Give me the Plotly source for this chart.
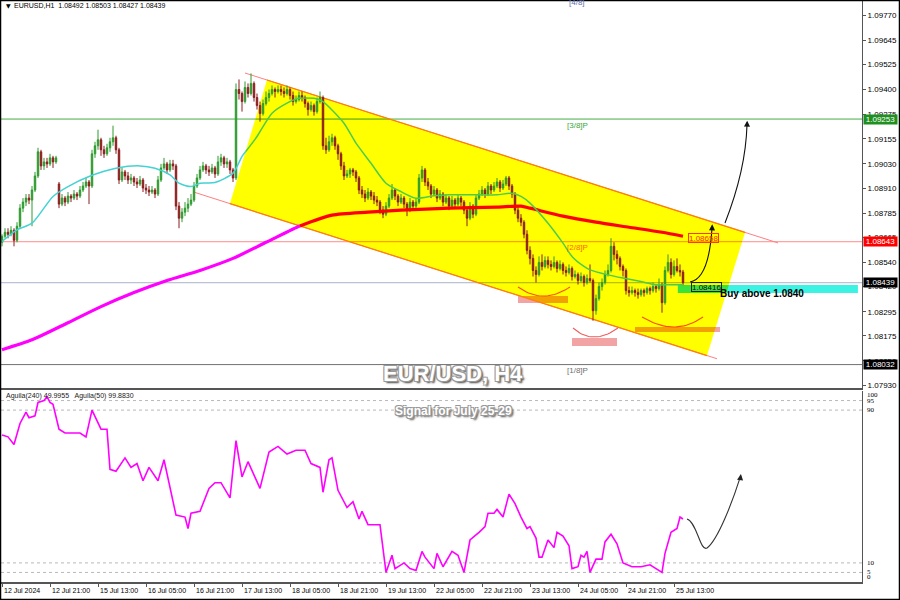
import plotly.graph_objects as go

# ======================= DATA =======================
BASE_PRICE = 1.08000  # the *_pips lists are pips above this price
symbol = "EURUSD,H1"

open_pips = [64,67,69,68,70,65,72,81,84,86, 85,90,97,109,102,104,103,106,104,93,
             83,86,84,87,86,88,87,90,92,94, 92,108,112,115,110,108,111,114,116,110,
             95,99,97,95,96,94,93,95,91,90, 89,90,88,95,101,103,100,103,102,82,
             76,79,81,83,85,92,96,100,102,100, 99,101,98,104,106,103,104,100,96,140,
             138,134,141,138,143,136,132,128,133,136, 138,140,139,140,139,138,140,137,134,135,
             137,136,133,130,132,129,134,136,112,110, 114,116,112,108,102,97,98,100,99,96,
             90,88,86,89,87,85,84,80,78,82, 86,90,87,84,86,83,80,84,82,84,
             96,100,94,92,88,90,86,88,84,86, 82,85,83,86,84,80,76,82,78,86,
             88,90,88,92,90,92,94,91,93,96, 92,88,80,76,74,68,60,56,50,48,
             54,52,55,53,52,54,51,53,50,49, 51,47,48,45,47,44,46,45,30,36,
             42,44,48,50,62,58,56,52,50,40, 39,40,39,38,40,39,41,40,42,41,
             43,34,50,54,48,52,50,49.2]
high_pips = [68,71,71,72,71,74,83,86,88,88, 92,99,111,110,106,106,108,107,107,94,
             88,87,89,88,90,89,92,94,96,95, 110,114,120,116,112,113,116,122,117,111,
             101,100,99,98,97,96,97,96,93,92, 92,91,97,103,106,104,105,105,103,84,
             81,84,86,88,94,98,102,104,103,102, 103,102,107,108,107,106,105,101,143,145,
             139,144,143,148,144,138,134,135,139,140, 142,141,142,142,141,142,141,139,137,139,
             139,137,134,134,133,136,139,137,116,117, 118,117,113,109,104,100,101,101,100,97,
             92,90,91,90,89,87,85,82,84,88, 93,91,88,88,87,84,86,85,86,98,
             102,101,96,93,92,91,90,89,88,87, 87,86,88,87,85,81,84,83,88,90,
             92,91,94,93,94,96,95,95,97,97, 93,89,82,78,75,70,62,58,52,57,
             58,57,57,55,57,55,55,54,52,53, 52,50,49,49,48,48,53,46,38,44,
             46,50,53,66,64,60,57,53,51,42, 42,41,41,41,41,42,42,44,43,46,
             44,52,58,56,55,56,53,50.3]
low_pips = [62,66,66,67,62,64,71,79,82,83, 72,89,96,100,100,101,102,101,103,81,
            82,82,83,84,85,85,86,89,91,83, 91,106,110,107,106,107,109,112,108,93,
            94,95,93,93,92,91,92,89,88,87, 88,86,87,94,100,98,99,100,80,71,
            74,77,79,82,84,91,95,99,98,97, 98,96,97,102,101,101,98,94,95,135,
            129,133,136,137,134,130,124,127,132,134, 137,136,138,137,136,137,135,132,133,134,
            134,131,127,129,127,128,133,110,108,109, 112,110,105,100,95,96,96,97,94,88,
            86,84,85,85,83,82,78,76,77,81, 85,85,82,83,81,77,79,80,81,83,
            94,92,90,86,87,84,85,82,83,80, 81,81,82,82,78,72,75,76,77,85,
            87,86,87,88,89,91,89,90,92,90, 86,78,74,72,66,58,53,47,44,47,
            50,51,51,50,51,49,50,48,47,48, 45,46,43,44,42,43,44,25,28,35,
            40,43,47,49,55,53,50,47,38,37, 38,37,36,37,37,38,38,39,39,40,
            29,33,49,46,47,49,47,42.7]
close_pips = [67,69,68,70,65,72,81,84,86,85, 90,97,109,102,104,103,106,104,106,83,
              86,84,87,86,88,87,90,92,94,92, 108,112,115,110,108,111,114,116,110,95,
              99,97,95,96,94,93,95,91,90,89, 90,88,95,101,103,100,103,102,82,76,
              79,81,83,85,92,96,100,102,100,99, 101,98,104,106,103,104,100,96,140,138,
              134,141,138,143,136,132,128,133,136,138, 140,139,140,139,138,140,137,134,135,137,
              136,133,130,132,129,134,136,112,110,114, 116,112,108,102,97,98,100,99,96,90,
              88,86,89,87,85,84,80,78,82,86, 90,87,84,86,83,80,84,82,84,96,
              100,94,92,88,90,86,88,84,86,82, 85,83,86,84,80,76,82,78,86,88,
              90,88,92,90,92,94,91,93,96,92, 88,80,76,74,68,60,56,50,48,54,
              52,55,53,52,54,51,53,50,49,51, 47,48,45,47,44,46,45,30,36,42,
              44,48,50,62,58,56,52,50,40,39, 40,39,38,40,39,41,40,42,41,43,
              34,50,54,48,52,50,49.2,43.9]

time_tick_labels = ["12 Jul 2024", "12 Jul 21:00", "15 Jul 13:00", "16 Jul 05:00", "16 Jul 21:00",
                    "17 Jul 13:00", "18 Jul 05:00", "18 Jul 21:00", "19 Jul 13:00", "22 Jul 05:00",
                    "22 Jul 21:00", "23 Jul 13:00", "24 Jul 05:00", "24 Jul 21:00", "25 Jul 13:00"]
time_tick_bars = [0, 16, 32, 48, 64, 80, 96, 112, 128, 144, 160, 176, 192, 208, 224]

price_tick_values = [1.09770, 1.09645, 1.09525, 1.09400, 1.09275, 1.09155, 1.09030, 1.08910,
                     1.08785, 1.08665, 1.08540, 1.08420, 1.08295, 1.08175, 1.08050, 1.07930]

ma_fast_bars = [0, 5, 10, 17, 22, 29, 38, 46, 51, 56, 59, 63, 66, 71, 77, 80, 85, 90, 95, 99,
                104, 107, 110, 114, 118, 123, 128, 133, 138, 144, 149, 154, 160, 165, 170, 173, 176,
                182, 187, 190, 194, 196, 202, 207, 213, 218, 223, 227]
ma_fast_pips = [64.4, 70.2, 73.5, 86.8, 91.7, 96.7, 100.8, 102.0, 100.8, 97.5, 93.4, 91.7, 93.4,
                93.7, 98.4, 106.7, 116.6, 128.2, 133.2, 135.6, 135.6, 134.0, 129.8, 123.2, 113.3,
                103.3, 93.4, 89.2, 85.9, 87.1, 87.6, 87.6, 87.6, 87.6, 88.4, 86.8, 83.5, 73.5,
                63.6, 57.0, 52.0, 50.3, 47.8, 46.2, 44.5, 42.9, 42.9, 42.9]
ma_slow_bars = [0, 10, 22, 33, 44, 55, 66, 77, 88, 99, 110, 122, 133, 149, 165, 173, 176, 187,
                198, 209, 220, 227]
ma_slow_pips = [10.6, 15.5, 24, 32, 39, 45, 50, 56, 64, 72, 77.5, 79, 80, 81, 81.5, 82, 81, 77,
                74, 71.5, 69, 67]

aguila_bars = [0,2,4,6,8,9,11,12,14,15, 16,17,19,21,25,26,28,30,33,35, 36,38,41,43,45,47,49,52,54,56,
               58,61,62,63,66,69,71,73,76,78, 80,82,86,89,92,95,98,101,103,106,
               107,109,110,112,115,117,119,120,122,126, 128,130,131,134,136,138,140,141,144,145,
               147,150,152,154,156,159,161,162,164,165, 167,169,171,173,175,176,178,179,180,182,
               184,185,187,189,190,192,193,194,195,196, 198,200,201,203,205,207,210,213,216,218,
               220,221,223,225,226,227]
aguila_vals = [77,76,72,83,89,86,87,94,95,97, 94,93,80,78,78,78,76,90,80,80, 59,58,65,60,62,53,60,53,64,50,
               35,34,28,36,37,49,52,52,44,74, 55,63,49,68,71,67,69,69,62,60,
               47,64,65,48,39,42,33,37,30,30, 5,14,7,10,7,6,16,13,7,15,
               8,16,14,5,22,26,29,36,36,38, 34,46,41,34,28,29,23,13,13,22,
               18,26,24,19,7,8,14,13,16,5, 12,12,21,25,20,10,8,8,9,7,
               5,15,26,28,34,33]
aguila_header = "Aguila(240) 49.9955   Aguila(50) 99.8830"
aguila_levels = [95, 90, 10, 5]
aguila_axis_labels = [100, 95, 90, 10, 5, 0]

# Murrey-math levels: (label, price, line colour, line colour inside channel, label colour)
mm_levels = [("[4/8]", 1.09864, "#7080b0", "#708000", "#6070b0"),
             ("[3/8]P", 1.09253, "#44ad44", "#3c9a00", "#3aa83a"),
             ("[2/8]P", 1.08643, "#ff8c8c", "#ff8a00", "#ff6a00"),
             ("[1/8]P", 1.08032, "#707070", "#707000", "#707070")]
current_price_color = "#a9b3c8"
mm_label_bar = 191.7

# ======================= DRAWING OBJECTS (analyst annotations) =======================
channel_upper = [(81.0, 1.09482), (258.67, 1.08637)]
channel_lower = [(63.67, 1.08891), (238.33, 1.08061)]
channel_fill_upper_bars = (88.33, 247.67)
channel_fill_lower_bars = (76.0, 235.0)
buy_zone = dict(x0=225.3, x1=285.3, p0=1.08388, p1=1.08428, text="Buy above 1.0840")
support_boxes = [(172.0, 188.67, 1.08338, 1.08373), (190.0, 205.0, 1.08124, 1.08164),
                 (211.0, 239.33, 1.08194, 1.08219)]
smile_arcs = [((172.0, 1.08418), (180.33, 1.08328), (189.33, 1.08418)),
              ((190.33, 1.08214), (197.0, 1.08124), (205.33, 1.08214)),
              ((213.33, 1.08269), (224.33, 1.08169), (233.67, 1.08269))]
price_arrows = [  # cubic path + (head, tail) for the arrow tip
    (((229.33, 1.08443), (233.67, 1.08453), (236.0, 1.08552), (236.67, 1.08711)), ((236.75, 1.08730), (236.67, 1.08700))),
    (((241.0, 1.08736), (245.33, 1.08900), (248.0, 1.09049), (248.33, 1.09223)), ((248.4, 1.09245), (248.33, 1.09215))),
]
indicator_arrow = ([(228.33, 33.0), (231.67, 31.4), (232.67, 15.7), (235.0, 17.8),
                    (238.67, 22.0), (243.67, 42.9), (246.0, 54.5)], ((246.3, 56.5), (246.0, 53.0)))
ma_label = (233.7, 1.08662, "1.08658")
buy_label = (234.7, 1.08416, "1.08416")

# ======================= LAYOUT CONSTANTS =======================
W, H = 900, 600
PLOT_L, PLOT_R, PLOT_T, PLOT_B = 1, 862, 0, 582
PRICE_BOTTOM_PX, IND_TOP_PX = 388, 391
PRICE_TOP = 1.09845
PX_PER_PRICE = 20109.0
PRICE_BOTTOM = PRICE_TOP - PRICE_BOTTOM_PX / PX_PER_PRICE
X_LO = (PLOT_L - 2) / 3.0
X_HI = (PLOT_R - 2) / 3.0
UP, DOWN = "#2e9a2e", "#8c1c1c"
FONT = "Liberation Sans, Arial, sans-serif"


def xp(px):
    return (px - PLOT_L) / (PLOT_R - PLOT_L)


def yp(py):
    return (PLOT_B - py) / (PLOT_B - PLOT_T)


def price_to_py(p):
    return (PRICE_TOP - p) * PX_PER_PRICE


def to_price(v):
    return round(BASE_PRICE + v / 10000.0, 5)


bars = list(range(len(close_pips)))
opens = [to_price(v) for v in open_pips]
highs = [to_price(v) for v in high_pips]
lows = [to_price(v) for v in low_pips]
closes = [to_price(v) for v in close_pips]


def line_at(line, i):
    (x0, p0), (x1, p1) = line
    return p0 + (p1 - p0) * (i - x0) / (x1 - x0)


def wc(i, p):
    return (float(i), p * 1e4)


YEL = [wc(channel_fill_upper_bars[0], line_at(channel_upper, channel_fill_upper_bars[0])),
       wc(channel_fill_upper_bars[1], line_at(channel_upper, channel_fill_upper_bars[1])),
       wc(channel_fill_lower_bars[1], line_at(channel_lower, channel_fill_lower_bars[1])),
       wc(channel_fill_lower_bars[0], line_at(channel_lower, channel_fill_lower_bars[0]))]
_a2 = sum(YEL[k][0] * YEL[(k + 1) % 4][1] - YEL[(k + 1) % 4][0] * YEL[k][1] for k in range(4))
ORI = 1 if _a2 > 0 else -1


def _side(k, p):
    a, b = YEL[k], YEL[(k + 1) % len(YEL)]
    return ORI * ((b[0] - a[0]) * (p[1] - a[1]) - (b[1] - a[1]) * (p[0] - a[0]))


def lerp(a, b, t):
    return (a[0] + (b[0] - a[0]) * t, a[1] + (b[1] - a[1]) * t)


def clip_segment(a, b):
    t0, t1 = 0.0, 1.0
    for k in range(len(YEL)):
        fa, fb = _side(k, a), _side(k, b)
        if fa < 0 and fb < 0:
            return None
        if fa < 0:
            t0 = max(t0, fa / (fa - fb))
        elif fb < 0:
            t1 = min(t1, fa / (fa - fb))
    if t0 >= t1:
        return None
    return t0, t1


def split_by_channel(pts):
    pieces = []
    for a, b in zip(pts[:-1], pts[1:]):
        r = clip_segment(a, b)
        if r is None:
            pieces.append((False, a, b))
            continue
        t0, t1 = r
        pa, pb = lerp(a, b, t0), lerp(a, b, t1)
        if t0 > 1e-9:
            pieces.append((False, a, pa))
        pieces.append((True, pa, pb))
        if t1 < 1 - 1e-9:
            pieces.append((False, pb, b))
    runs = []
    for flag, s, e in pieces:
        if runs and runs[-1][0] == flag:
            runs[-1][1].append(e)
        else:
            runs.append((flag, [s, e]))
    return runs


def clip_polygon(poly):
    out = list(poly)
    for k in range(len(YEL)):
        if not out:
            break
        inp, out = out, []
        for j in range(len(inp)):
            cur, prev = inp[j], inp[j - 1]
            fc, fp = _side(k, cur), _side(k, prev)
            if fc >= 0:
                if fp < 0:
                    out.append(lerp(prev, cur, fp / (fp - fc)))
                out.append(cur)
            elif fp >= 0:
                out.append(lerp(prev, cur, fp / (fp - fc)))
    return out


def path_of(pts, close=True):
    s = "M " + " L ".join(f"{x:.4f},{y / 1e4:.6f}" for x, y in pts)
    return s + (" Z" if close else "")


shapes = []
annotations = []

# yellow channel fill
shapes.append(dict(type="path", xref="x", yref="y", layer="below", path=path_of(YEL),
                   fillcolor="#ffff00", line=dict(width=0)))


def add_rect_blended(x0, x1, p0, p1, col_out, col_in):
    shapes.append(dict(type="rect", xref="x", yref="y", layer="below", x0=x0, x1=x1, y0=p0, y1=p1,
                       fillcolor=col_out, line=dict(width=0)))
    poly = clip_polygon([wc(x0, p0), wc(x1, p0), wc(x1, p1), wc(x0, p1)])
    if len(poly) >= 3:
        shapes.append(dict(type="path", xref="x", yref="y", layer="below", path=path_of(poly),
                           fillcolor=col_in, line=dict(width=0)))


for (x0, x1, p0, p1) in support_boxes:
    add_rect_blended(x0, x1, p0, p1, "#f2a3a3", "#f2a200")

add_rect_blended(buy_zone["x0"], buy_zone["x1"], buy_zone["p0"], buy_zone["p1"], "#3cf2e2", "#3ce23c")


def add_hline(price, col_out, col_in, width=1):
    for inside, run in split_by_channel([wc(X_LO - 1, price), wc(X_HI + 1, price)]):
        shapes.append(dict(type="line", xref="x", yref="y", layer="below",
                           x0=run[0][0], x1=run[-1][0], y0=price, y1=price,
                           line=dict(color=col_in if inside else col_out, width=width)))


for lab, pr, c_out, c_in, c_lab in mm_levels:
    add_hline(pr, c_out, c_in)
add_hline(closes[-1], current_price_color, "#a8b000")

# channel borders
for line, span in ((channel_upper, channel_fill_upper_bars), (channel_lower, channel_fill_lower_bars)):
    (x0, p0), (x1, p1) = line
    shapes.append(dict(type="line", xref="x", yref="y", layer="below", x0=x0, y0=p0, x1=x1, y1=p1,
                       line=dict(color="#ff7f7f", width=1)))
    shapes.append(dict(type="line", xref="x", yref="y", layer="below",
                       x0=span[0], y0=line_at(line, span[0]), x1=span[1], y1=line_at(line, span[1]),
                       line=dict(color="#ff8000", width=1.2)))

fig = go.Figure()

fig.add_trace(go.Candlestick(
    x=bars, open=opens, high=highs, low=lows, close=closes, xaxis="x", yaxis="y",
    increasing=dict(line=dict(color=UP, width=1), fillcolor=UP),
    decreasing=dict(line=dict(color=DOWN, width=1), fillcolor=DOWN),
    whiskerwidth=0, showlegend=False, hoverinfo="skip"))


def add_split_trace(xs, prices, col_out, col_in, width, spline=True):
    pts = [wc(x, p) for x, p in zip(xs, prices)]
    for inside, run in split_by_channel(pts):
        fig.add_trace(go.Scatter(
            x=[p[0] for p in run], y=[p[1] / 1e4 for p in run], mode="lines",
            xaxis="x", yaxis="y", hoverinfo="skip", showlegend=False,
            line=dict(color=col_in if inside else col_out, width=width,
                      shape="spline" if spline else "linear", smoothing=0.7)))


add_split_trace(ma_slow_bars, [to_price(v) for v in ma_slow_pips], "#ff00ff", "#ff0000", 3.2)
add_split_trace(ma_fast_bars, [to_price(v) for v in ma_fast_pips], "#45d2d2", "#4ccc4c", 1.5)


# smile arcs (sampled quadratic curves, coloured by channel)
def quad(a, c, b, n=24):
    out = []
    for k in range(n + 1):
        t = k / n
        out.append(((1 - t) ** 2 * a[0] + 2 * (1 - t) * t * c[0] + t * t * b[0],
                    (1 - t) ** 2 * a[1] + 2 * (1 - t) * t * c[1] + t * t * b[1]))
    return out


for a, c, b in smile_arcs:
    pts = quad(a, c, b)
    add_split_trace([p[0] for p in pts], [p[1] for p in pts], "#f25a5a", "#ff4a10", 1.1, spline=False)

# indicator line
fig.add_trace(go.Scatter(x=aguila_bars, y=aguila_vals, xaxis="x2", yaxis="y2", mode="lines",
                         line=dict(color="#ff00ff", width=1.6), hoverinfo="skip", showlegend=False))

# indicator dotted levels
for lv in aguila_levels:
    shapes.append(dict(type="line", xref="x2", yref="y2", layer="below", x0=X_LO, x1=X_HI, y0=lv, y1=lv,
                       line=dict(color="#b8b8b8", width=1, dash="dot")))

# arrows
for (p0, c1, c2, p1), (head, tail) in price_arrows:
    shapes.append(dict(type="path", xref="x", yref="y", layer="above",
                       path=f"M {p0[0]},{p0[1]} C {c1[0]},{c1[1]} {c2[0]},{c2[1]} {p1[0]},{p1[1]}",
                       line=dict(color="#111111", width=1.1)))
    annotations.append(dict(x=head[0], y=head[1], ax=tail[0], ay=tail[1], xref="x", yref="y",
                            axref="x", ayref="y", text="", showarrow=True, arrowhead=2,
                            arrowsize=1.1, arrowwidth=1.1, arrowcolor="#111111"))
ipts, (ihead, itail) = indicator_arrow
shapes.append(dict(type="path", xref="x2", yref="y2", layer="above",
                   path=(f"M {ipts[0][0]},{ipts[0][1]} C {ipts[1][0]},{ipts[1][1]} {ipts[2][0]},{ipts[2][1]} "
                         f"{ipts[3][0]},{ipts[3][1]} C {ipts[4][0]},{ipts[4][1]} {ipts[5][0]},{ipts[5][1]} "
                         f"{ipts[6][0]},{ipts[6][1]}"),
                   line=dict(color="#333333", width=1.1)))
annotations.append(dict(x=ihead[0], y=ihead[1], ax=itail[0], ay=itail[1], xref="x2", yref="y2",
                        axref="x2", ayref="y2", text="", showarrow=True, arrowhead=2,
                        arrowsize=1.1, arrowwidth=1.1, arrowcolor="#222222"))

# outer frame
shapes.append(dict(type="rect", xref="paper", yref="paper", layer="above",
                   x0=xp(0.5), x1=xp(W - 0.5), y0=yp(H - 0.5), y1=yp(0.5),
                   line=dict(color="black", width=1.5), fillcolor="rgba(0,0,0,0)"))

# ---------- texts ----------
last = -1
header = f"{symbol}  {opens[last]:.5f} {highs[last]:.5f} {lows[last]:.5f} {closes[last]:.5f}"
annotations.append(dict(xref="paper", yref="paper", x=xp(4), y=yp(6), text="▼", showarrow=False,
                        xanchor="left", yanchor="middle", font=dict(family="DejaVu Sans", size=6, color="black")))
annotations.append(dict(xref="paper", yref="paper", x=xp(12), y=yp(6), text=header, showarrow=False,
                        xanchor="left", yanchor="middle", font=dict(family=FONT, size=7, color="black")))
annotations.append(dict(xref="paper", yref="paper", x=xp(4), y=yp(396), text=aguila_header, showarrow=False,
                        xanchor="left", yanchor="middle", font=dict(family=FONT, size=7, color="#222")))

# Murrey-math labels (paper y so a label just above the visible range is still drawn, partly cut)
for lab, pr, c_out, c_in, c_lab in mm_levels:
    annotations.append(dict(xref="x", yref="paper", x=mm_label_bar, y=yp(max(price_to_py(pr) + 6, 1.5)),
                            text=lab, showarrow=False, xanchor="center", yanchor="middle",
                            font=dict(family=FONT, size=8, color=c_lab)))

# right-side price tags
tags = [(mm_levels[1][1], "#1f8f1f"), (mm_levels[2][1], "#ff0000"), (closes[-1], "#000000"),
        (mm_levels[3][1], "#000000")]
for pr, bg in tags:
    annotations.append(dict(xref="paper", yref="y", x=1, xshift=1, y=pr, text=f"{pr:.5f}", showarrow=False,
                            xanchor="left", yanchor="middle", bgcolor=bg, width=33, height=9, borderpad=0,
                            font=dict(family=FONT, size=8, color="white")))

# MA value label and buy label
annotations.append(dict(xref="x", yref="y", x=ma_label[0], y=ma_label[1], text=ma_label[2], showarrow=False,
                        xanchor="center", yanchor="middle", bordercolor="#ff3a00", borderwidth=1, borderpad=0,
                        height=8, font=dict(family=FONT, size=8, color="#ff2a00")))
annotations.append(dict(xref="x", yref="y", x=buy_label[0], y=buy_label[1], text=buy_label[2], showarrow=False,
                        xanchor="center", yanchor="middle", bordercolor="#222", borderwidth=1, borderpad=0,
                        height=8, font=dict(family=FONT, size=8, color="#111")))
annotations.append(dict(xref="x", yref="y", x=(718 - 2) / 3.0, y=1.08383, text=buy_zone["text"],
                        showarrow=False, xanchor="left", yanchor="middle",
                        font=dict(family=FONT, size=10, color="black", weight="bold")))

# titles
annotations.append(dict(xref="paper", yref="paper", x=xp(453), y=yp(374), text="EUR/USD, H4", showarrow=False,
                        xanchor="center", yanchor="middle",
                        font=dict(family=FONT, size=22, color="white", weight="bold",
                                  shadow="-1px -1px 0 #999, 1px -1px 0 #999, -1px 1px 0 #999, 1px 1px 0 #999, 2px 2px 2px #444")))
annotations.append(dict(xref="paper", yref="paper", x=xp(453), y=yp(411), text="Signal for July 25-29",
                        showarrow=False, xanchor="center", yanchor="middle",
                        font=dict(family=FONT, size=12, color="white", weight="bold",
                                  shadow="-1px -1px 0 #999, 1px -1px 0 #999, -1px 1px 0 #999, 1px 1px 0 #999, 2px 2px 2px #444")))

# time labels (left aligned at the tick, as in the terminal)
for b, lab in zip(time_tick_bars, time_tick_labels):
    annotations.append(dict(xref="x2", yref="paper", x=b, y=yp(590), text=lab, showarrow=False,
                            xanchor="left", yanchor="middle", font=dict(family=FONT, size=7, color="black")))

# indicator scale labels
for v in aguila_axis_labels:
    shift = -4 if v == 100 else (5 if v == 0 else 0)
    annotations.append(dict(xref="paper", yref="y2", x=1, xshift=3, y=v, yshift=shift, text=str(v),
                            showarrow=False, xanchor="left", yanchor="middle",
                            font=dict(family="Liberation Serif, serif", size=7, color="black")))

fig.update_layout(
    width=W, height=H, margin=dict(l=PLOT_L, r=W - PLOT_R, t=PLOT_T, b=H - PLOT_B, pad=0),
    paper_bgcolor="white", plot_bgcolor="white", showlegend=False, hovermode=False,
    xaxis=dict(domain=[0, 1], range=[X_LO, X_HI], anchor="y", showticklabels=False, showgrid=False,
               zeroline=False, ticks="", showline=True, linecolor="#555", linewidth=1.5,
               rangeslider=dict(visible=False)),
    yaxis=dict(domain=[yp(PRICE_BOTTOM_PX), 1], range=[PRICE_BOTTOM, PRICE_TOP], side="right", anchor="x",
               tickvals=price_tick_values, ticktext=[f"{v:.5f}" for v in price_tick_values],
               ticks="outside", ticklen=3, tickcolor="#555",
               tickfont=dict(family=FONT, size=8, color="black"), showgrid=False, zeroline=False,
               showline=True, linecolor="#555", linewidth=1),
    xaxis2=dict(domain=[0, 1], range=[X_LO, X_HI], anchor="y2", matches="x", tickvals=time_tick_bars,
                ticks="outside", ticklen=3, tickcolor="#555", showticklabels=False, showgrid=False,
                zeroline=False, showline=True, linecolor="#555", linewidth=1.5),
    yaxis2=dict(domain=[0, yp(IND_TOP_PX)], range=[0, 100], side="right", anchor="x2", showticklabels=False,
                ticks="", showgrid=False, zeroline=False, showline=True, linecolor="#555", linewidth=1),
    shapes=shapes, annotations=annotations,
)

fig.write_html("out.html", config={"displayModeBar": False, "staticPlot": True},
               post_script="document.body.style.margin='0px';document.body.style.overflow='hidden';")
